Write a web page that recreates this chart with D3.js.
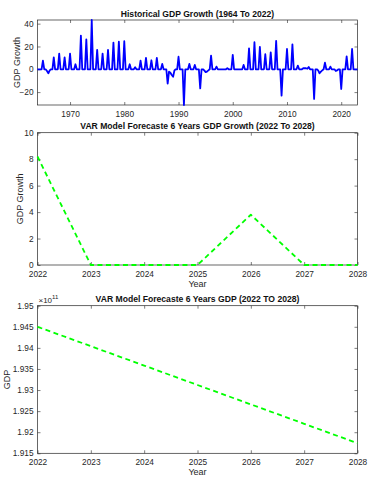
<!DOCTYPE html>
<html><head><meta charset="utf-8">
<script src="https://cdn.jsdelivr.net/npm/d3@7"></script>
<style>body{margin:0;background:#fff}svg{display:block;font-family:"Liberation Sans",Arial,Helvetica,sans-serif}</style>
</head><body><svg id="c" width="371" height="480"></svg>
<script>
// ---------- Data ----------
// Historical GDP growth, one row per year (quarterly steps), 1964..2022, plus closing point 2023
const histStartYear = 1964;
const histGrowth = [
  0,0,0,0,            // 1964
  7.6,0,0,-1.5,       // 1965
  -3.5,-1,0,0,        // 1966
  10.5,0,0,0,         // 1967
  13.7,0,0,0,         // 1968
  10.5,0,0,0,         // 1969
  13.7,0,0,0,         // 1970
  4.4,0,0,0,          // 1971
  29.5,0,0,0,         // 1972
  26.3,0,0,0,         // 1973
  43.2,0,0,0,         // 1974
  17,0,0,0,           // 1975
  13.7,0,0,0,         // 1976
  17,0,0,0,           // 1977
  23.4,0,0,0,         // 1978
  24.3,0,0,0,         // 1979
  24.6,0,0,0,         // 1980
  4.4,0,0,0,          // 1981
  1.8,0,0,0,          // 1982
  7.6,0,0,0,          // 1983
  10,0,0,0,           // 1984
  7.9,0,0,0,          // 1985
  10,0,0,0,           // 1986
  4.7,0,0,0,          // 1987
  -12.5,-2,-3,-5,     // 1988
  -6.5,-1,0,0,        // 1989
  11,0,0,0,           // 1990
  -31.3,0,0,0,        // 1991
  4.7,0,0,0,          // 1992
  3.8,0,0,0,          // 1993
  -16.7,0,0,-1,       // 1994
  -2.5,-2,-1,0,       // 1995
  12,0,0,0,           // 1996
  2.3,0,0,0,          // 1997
  0,0,0,0,            // 1998
  1,0,0,0,            // 1999
  12.6,0,0,0,         // 2000
  0,0,0,0,            // 2001
  3.8,0,0,0,          // 2002
  18.4,0,0,0,         // 2003
  23.7,0,0,0,         // 2004
  19.6,0,0,0,         // 2005
  13.2,0,0,0,         // 2006
  14.9,0,0,0,         // 2007
  24.9,0,0,0,         // 2008
  -23.1,0,0,0,        // 2009
  17.8,0,0,0,         // 2010
  21.9,0,0,0,         // 2011
  3.2,0,0,0,          // 2012
  0.9,0.9,0.9,0.5,    // 2013
  2,0,0,0,            // 2014
  -26,0,0,-1,         // 2015
  -3.5,-2,-1,0,       // 2016
  5.8,0,0,0,          // 2017
  2.3,0,0,0,          // 2018
  -1.5,-1,0,0,        // 2019
  -17.3,0,0,0,        // 2020
  11.4,0,0,0,         // 2021
  17.8,0,0,0,         // 2022
  0                   // 2023
];
const histXTicks = [1970,1980,1990,2000,2010,2020];
const histYTicks = [-20,0,20,40];

const fcYears = [2022,2023,2024,2025,2026,2027,2028];
const fcGrowth = [8.2,0,0,0,3.8,0,0];
const fcGrowthYTicks = [0,2,4,6,8,10];

const fcGDP = [1.9450e11,1.9404e11,1.9358e11,1.9312e11,1.9266e11,1.9220e11,1.9174e11];
const fcGDPYTicks = [1.915,1.92,1.925,1.93,1.935,1.94,1.945,1.95];

// ---------- Drawing ----------
const svg = d3.select("#c");
const L = 37.5, R = 357.5;
const axisCol = "#262626";

function panel(o){
  const g = svg.append("g");
  const x = d3.scaleLinear().domain(o.xDomain).range([L,R]);
  const y = d3.scaleLinear().domain(o.yDomain).range([o.bottom,o.top]);
  const tk = 3;
  const styleAxis = a => {
    a.select(".domain").remove();
    a.selectAll("line").attr("stroke",axisCol).attr("stroke-width",0.6);
    a.selectAll("text").attr("fill",axisCol).attr("font-size",8.3).attr("font-family","Liberation Sans, Arial, sans-serif");
  };
  g.append("g").attr("transform",`translate(0,${o.bottom})`)
    .call(d3.axisBottom(x).tickValues(o.xTicks).tickFormat(d3.format("d")).tickSizeInner(-tk).tickSizeOuter(0).tickPadding(6.3))
    .call(styleAxis);
  g.append("g").attr("transform",`translate(0,${o.top})`)
    .call(d3.axisTop(x).tickValues(o.xTicks).tickFormat("").tickSizeInner(-tk).tickSizeOuter(0))
    .call(styleAxis);
  g.append("g").attr("transform",`translate(${L},0)`)
    .call(d3.axisLeft(y).tickValues(o.yTicks).tickFormat(o.yFmt).tickSizeInner(-tk).tickSizeOuter(0).tickPadding(4))
    .call(styleAxis);
  g.append("g").attr("transform",`translate(${R},0)`)
    .call(d3.axisRight(y).tickValues(o.yTicks).tickFormat("").tickSizeInner(-tk).tickSizeOuter(0))
    .call(styleAxis);
  g.append("rect").attr("x",L).attr("y",o.top).attr("width",R-L).attr("height",o.bottom-o.top)
    .attr("fill","none").attr("stroke",axisCol).attr("stroke-width",0.7);
  const line = d3.line().x(d=>x(d[0])).y(d=>y(d[1]));
  g.append("path").datum(o.points).attr("d",line).attr("fill","none")
    .attr("stroke",o.color).attr("stroke-width",o.width)
    .attr("stroke-dasharray",o.dash||null).attr("stroke-linejoin","round");
  g.append("text").attr("x",(L+R)/2).attr("y",o.titleY).attr("text-anchor","middle")
    .attr("font-size",8.6).attr("font-weight","bold").attr("fill","#111").text(o.title);
  g.append("text").attr("transform",`translate(${o.ylabX},${(o.top+o.bottom)/2}) rotate(-90)`)
    .attr("text-anchor","middle").attr("font-size",9).attr("fill",axisCol).text(o.ylabel);
  if(o.xlabel){
    g.append("text").attr("x",(L+R)/2).attr("y",o.xlabY).attr("text-anchor","middle")
      .attr("font-size",9).attr("fill",axisCol).text(o.xlabel);
  }
  return {x,y,g};
}

panel({
  top:20, bottom:105, xDomain:[1964,2023], yDomain:[-31.3,43.2],
  xTicks:histXTicks, yTicks:histYTicks, yFmt:d3.format("d"),
  points: histGrowth.map((v,i)=>[histStartYear+i/4, v]),
  color:"#0000ff", width:1.8,
  title:"Historical GDP Growth (1964 To 2022)", titleY:16.5,
  ylabel:"GDP Growth", ylabX:20
});

panel({
  top:132.7, bottom:265, xDomain:[2022,2028], yDomain:[0,10],
  xTicks:fcYears, yTicks:fcGrowthYTicks, yFmt:d3.format("d"),
  points: fcYears.map((yr,i)=>[yr,fcGrowth[i]]),
  color:"#00ff00", width:1.8, dash:"5,3.5",
  title:"VAR Model Forecaste 6 Years GDP Growth (2022 To 2028)", titleY:128.5,
  ylabel:"GDP Growth", ylabX:23, xlabel:"Year", xlabY:287
});

const p3 = panel({
  top:305.7, bottom:453.3, xDomain:[2022,2028], yDomain:[1.915,1.95],
  xTicks:fcYears, yTicks:fcGDPYTicks, yFmt:d=>String(+d.toFixed(3)),
  points: fcYears.map((yr,i)=>[yr,fcGDP[i]/1e11]),
  color:"#00ff00", width:1.8, dash:"5,3.5",
  title:"VAR Model Forecaste 6 Years GDP (2022 TO 2028)", titleY:301.5,
  ylabel:"GDP", ylabX:10, xlabel:"Year", xlabY:474.5
});
const ex = p3.g.append("text").attr("x",L+1).attr("y",302.5).attr("font-size",8).attr("fill",axisCol);
ex.append("tspan").text("\u00d710");
ex.append("tspan").attr("dy",-3.5).attr("font-size",6).text("11");
</script></body></html>
